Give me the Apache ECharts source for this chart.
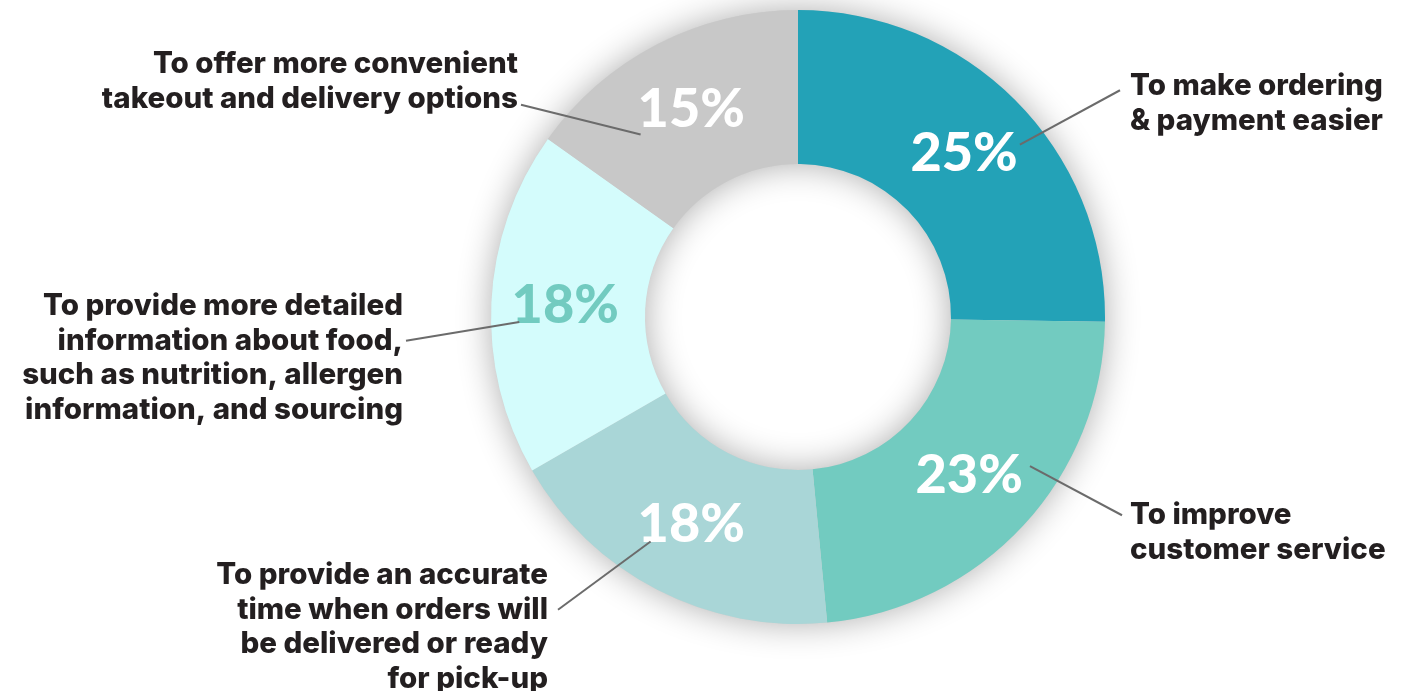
<!DOCTYPE html>
<html><head><meta charset="utf-8">
<script src="https://cdn.jsdelivr.net/npm/echarts@6/dist/echarts.min.js"></script>
<style>html,body{margin:0;padding:0;background:#fff}#c{width:1427px;height:691px}</style>
</head><body><div id="c"></div>
<script>
// ---- data ----
const categories = [
  'To make ordering\n& payment easier',
  'To improve\ncustomer service',
  'To provide an accurate\ntime when orders will\nbe delivered or ready\nfor pick-up',
  'To provide more detailed\ninformation about food,\nsuch as nutrition, allergen\ninformation, and sourcing',
  'To offer more convenient\ntakeout and delivery options'
];
const values = [25, 23, 18, 18, 15];

// ---- styles ----
const sliceColors = ['#23A2B7', '#72CBC0', '#A9D6D7', '#D4FCFC', '#C8C8C8'];
const pctColors = ['#ffffff', '#ffffff', '#ffffff', '#72CBC0', '#ffffff'];
const PCT_FONT = 'Lato';
const TXT_FONT = 'Inter';
const LINE_H = 34.5;

// ---- callout layout (text block placement, leader line tweaks) ----
const calloutLayout = [
  { x: 1130, y: 69,  align: 'left',  row: 0, gap: 10, dy: 4, sdx: 58,  sdy: -11 },
  { x: 1130, y: 498, align: 'left',  row: 0, gap: 8,  dy: 0, sdx: 63,  sdy: -7 },
  { x: 548,  y: 558, align: 'right', row: 1, gap: 10, dy: 0, sdx: -42, sdy: 20 },
  { x: 403,  y: 289, align: 'right', row: 1, gap: 3,  dy: 0, sdx: -49, sdy: 16 },
  { x: 518,  y: 47,  align: 'right', row: 1, gap: 3,  dy: 6, sdx: -52, sdy: 22 }
];

const center = [798, 317];
const ringRadius = [153, 307];
const anchorRadius = 230;

const chart = echarts.init(document.getElementById('c'));

const ringData = values.map((v, i) => ({
  value: v,
  name: categories[i],
  itemStyle: { color: sliceColors[i] },
  label: { color: pctColors[i] }
}));

const calloutData = values.map((v, i) => ({ value: v, name: categories[i] }));

chart.setOption({
  animation: false,
  backgroundColor: '#ffffff',
  series: [
    {
      // shadow base
      type: 'pie', silent: true, center: center, radius: ringRadius,
      startAngle: 90, clockwise: true,
      label: { show: false }, labelLine: { show: false },
      emphasis: { disabled: true },
      data: [{ value: 1, itemStyle: { color: '#d0d0d0', shadowBlur: 34, shadowColor: 'rgba(0,0,0,0.32)' } }],
      z: 1
    },
    {
      type: 'pie', silent: true, center: center, radius: ringRadius,
      startAngle: 90, clockwise: true, avoidLabelOverlap: false,
      emphasis: { disabled: true },
      label: {
        show: true, position: 'inside',
        formatter: p => p.value + '%',
        fontFamily: PCT_FONT, fontWeight: 900, fontSize: 54
      },
      labelLine: { show: false },
      data: ringData,
      z: 2
    },
    {
      // invisible pie carrying the callout labels and leader lines
      type: 'pie', silent: true, center: center, radius: [0, anchorRadius],
      startAngle: 90, clockwise: true, avoidLabelOverlap: false,
      emphasis: { disabled: true },
      itemStyle: { color: 'rgba(0,0,0,0)' },
      label: {
        show: true, position: 'outside',
        formatter: p => p.name,
        fontFamily: TXT_FONT, fontWeight: 800, fontSize: 29.5, lineHeight: LINE_H,
        color: '#231F20'
      },
      labelLine: { show: true, length: 0, length2: 0, smooth: false,
        lineStyle: { color: '#6b6b6b', width: 2 } },
      labelLayout: function (p) {
        const L = calloutLayout[p.dataIndex];
        const endX = L.align === 'left' ? L.x - L.gap : L.x + L.gap;
        const endY = L.y + (L.row + 0.5) * LINE_H + L.dy;
        const a = p.labelLinePoints && p.labelLinePoints[0];
        const res = { x: L.x, y: L.y, align: L.align, verticalAlign: 'top' };
        if (a) {
          const s = [a[0] + L.sdx, a[1] + L.sdy];
          res.labelLinePoints = [s, [endX, endY], [endX, endY]];
        }
        return res;
      },
      data: calloutData,
      z: 3
    }
  ]
});
</script>
</body></html>
